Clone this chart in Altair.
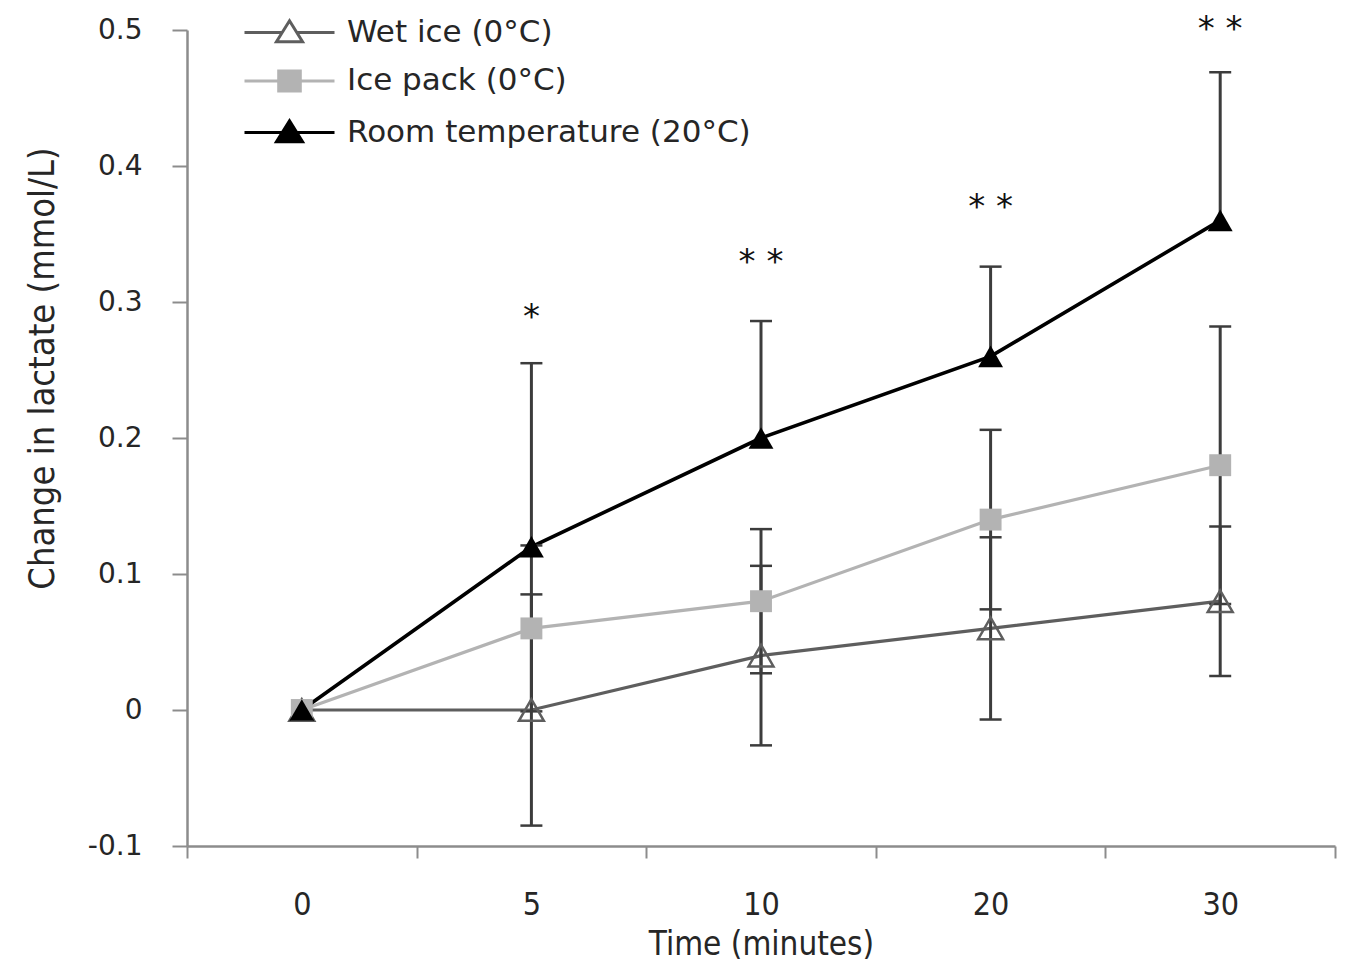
import altair as alt
import pandas as pd

# ---------------- data ----------------
times = ["0", "5", "10", "20", "30"]
series_names = ["Wet ice (0°C)", "Ice pack (0°C)", "Room temperature (20°C)"]

wet_ice = [0.0, 0.0, 0.04, 0.06, 0.08]
wet_ice_err = [0.0, 0.085, 0.066, 0.067, 0.055]

ice_pack = [0.0, 0.06, 0.08, 0.14, 0.18]
ice_pack_err = [0.0, 0.061, 0.053, 0.066, 0.102]

room_temp = [0.0, 0.12, 0.20, 0.26, 0.36]
room_temp_err_up = [0.0, 0.135, 0.086, 0.066, 0.109]

star_times = ["5", "10", "20", "30"]
star_labels = ["*", "* *", "* *", "* *"]
star_y = [0.288, 0.329, 0.369, 0.5]

y_ticks = [-0.1, 0.0, 0.1, 0.2, 0.3, 0.4, 0.5]

# ---------------- styling ----------------
line_colors = ["#5e5e5e", "#b3b3b3", "#000000"]
err_color = "#3c3c3c"
axis_color = "#8c8c8c"
text_color = "#262626"
wide_font = "DejaVu Sans"
narrow_font = "Liberation Sans Narrow, DejaVu Sans Condensed, sans-serif"

# ---------------- tables ----------------
rows = []
caps = []
for name, vals, errs, both in [
    (series_names[0], wet_ice, wet_ice_err, True),
    (series_names[1], ice_pack, ice_pack_err, True),
    (series_names[2], room_temp, room_temp_err_up, False),
]:
    for t, v, e in zip(times, vals, errs):
        lo = v - e if both else v
        hi = v + e
        rows.append({"time": t, "series": name, "value": v, "lo": lo, "hi": hi, "err": e})
        if e > 0:
            caps.append({"time": t, "series": name, "cap": hi})
            if both:
                caps.append({"time": t, "series": name, "cap": lo})

df = pd.DataFrame(rows)
df_err = df[df["err"] > 0]
df_caps = pd.DataFrame(caps)
df_stars = pd.DataFrame({"time": star_times, "label": star_labels, "y": star_y})

x_scale = alt.Scale(type="band", domain=times, paddingInner=0, paddingOuter=0)
y_scale = alt.Scale(domain=[-0.1, 0.5], nice=False, zero=False)

x_axis = alt.Axis(
    title="Time  (minutes)",
    labelAngle=0,
    tickBand="extent",
    tickSize=12,
    tickWidth=2,
    tickColor=axis_color,
    domainColor=axis_color,
    domainWidth=2.5,
    labelFont=narrow_font,
    labelFontSize=32,
    labelColor=text_color,
    labelPadding=31,
    titleFont=narrow_font,
    titleFontSize=33,
    titleFontWeight="normal",
    titleColor=text_color,
    titleY=98,
    titleBaseline="middle",
    grid=False,
)

y_axis = alt.Axis(
    title="Change in lactate (mmol/L)",
    values=y_ticks,
    labelExpr="abs(datum.value) < 1e-9 ? '0' : replace(format(datum.value, '.1f'), '\u2212', '-')",
    tickSize=15,
    tickWidth=2,
    tickColor=axis_color,
    domainColor=axis_color,
    domainWidth=2.5,
    labelFont=wide_font,
    labelFontSize=28,
    labelColor=text_color,
    labelPadding=30,
    titleFont=narrow_font,
    titleFontSize=36,
    titleFontWeight="normal",
    titleColor=text_color,
    titleX=-145,
    titleY=338,
    titleBaseline="middle",
    grid=False,
)

def X():
    return alt.X("time:N", sort=times, scale=x_scale, axis=x_axis)

base = alt.Chart(df)

err_rules = alt.Chart(df_err).mark_rule(color=err_color, strokeWidth=3).encode(
    x=X(),
    y=alt.Y("lo:Q", scale=y_scale, axis=y_axis),
    y2="hi:Q",
)

err_caps = alt.Chart(df_caps).mark_tick(
    color=err_color, thickness=2.5, size=22, orient="horizontal", opacity=1
).encode(x=X(), y=alt.Y("cap:Q", scale=y_scale, axis=y_axis))

line_layers = []
for name, col, w in zip(series_names, line_colors, [3.2, 3.2, 3.6]):
    line_layers.append(
        alt.Chart(df[df["series"] == name]).mark_line(color=col, strokeWidth=w).encode(
            x=X(), y=alt.Y("value:Q", scale=y_scale, axis=y_axis)
        )
    )

wet_pts = alt.Chart(df[df["series"] == series_names[0]]).mark_point(
    shape="triangle-up", size=620, filled=False, stroke=line_colors[0], strokeWidth=2.5, opacity=1
).encode(x=X(), y=alt.Y("value:Q", scale=y_scale, axis=y_axis))

ice_pts = alt.Chart(df[df["series"] == series_names[1]]).mark_point(
    shape="square", size=480, filled=True, fill=line_colors[1], opacity=1
).encode(x=X(), y=alt.Y("value:Q", scale=y_scale, axis=y_axis))

room_pts = alt.Chart(df[df["series"] == series_names[2]]).mark_point(
    shape="triangle-up", size=620, filled=True, fill="#000000", opacity=1
).encode(x=X(), y=alt.Y("value:Q", scale=y_scale, axis=y_axis))

stars = alt.Chart(df_stars).mark_text(
    font=wide_font, fontSize=34, color="#111111", baseline="middle", align="center"
).encode(
    x=X(),
    y=alt.Y("y:Q", scale=y_scale, axis=y_axis),
    text="label:N",
)

# legend proxy (no visible marks, native legend with line+symbol glyphs)
tri_path = "M-3,0H-0.47M0.47,0H3M0,-0.78L0.87,0.62L-0.87,0.62Z"
sq_path = "M-3,0H3M-0.72,-0.66H0.72V0.66H-0.72Z"
legend_def = alt.Legend(
    title=None,
    orient="none",
    legendX=86,
    legendY=-14,
    symbolSize=900,
    symbolStrokeWidth=3,
    symbolOpacity=1,
    labelFont=wide_font,
    labelFontSize=31,
    labelColor=text_color,
    labelLimit=0,
    labelOffset=41,
    rowPadding=16.5,
    padding=0,
)
legend_layer = base.transform_filter("datum.value > 100").mark_point(filled=True, opacity=1).encode(
    x=X(),
    y=alt.Y("value:Q", scale=y_scale, axis=y_axis),
    shape=alt.Shape("series:N", scale=alt.Scale(domain=series_names, range=[tri_path, sq_path, tri_path]), legend=legend_def),
    fill=alt.Fill("series:N", scale=alt.Scale(domain=series_names, range=["#ffffff", line_colors[1], "#000000"]), legend=legend_def),
    stroke=alt.Stroke("series:N", scale=alt.Scale(domain=series_names, range=line_colors), legend=legend_def),
)

chart = (
    alt.layer(*line_layers, err_rules, err_caps, wet_pts, ice_pts, room_pts, stars, legend_layer)
    .properties(
        width=1148,
        height=816,
        autosize=alt.AutoSizeParams(type="none"),
        padding={"left": 179, "top": 22, "right": 7, "bottom": 116},
        background="white",
    )
    .configure_view(stroke=None)
)

chart.save("out.html", embed_options={"renderer": "svg", "actions": False})
